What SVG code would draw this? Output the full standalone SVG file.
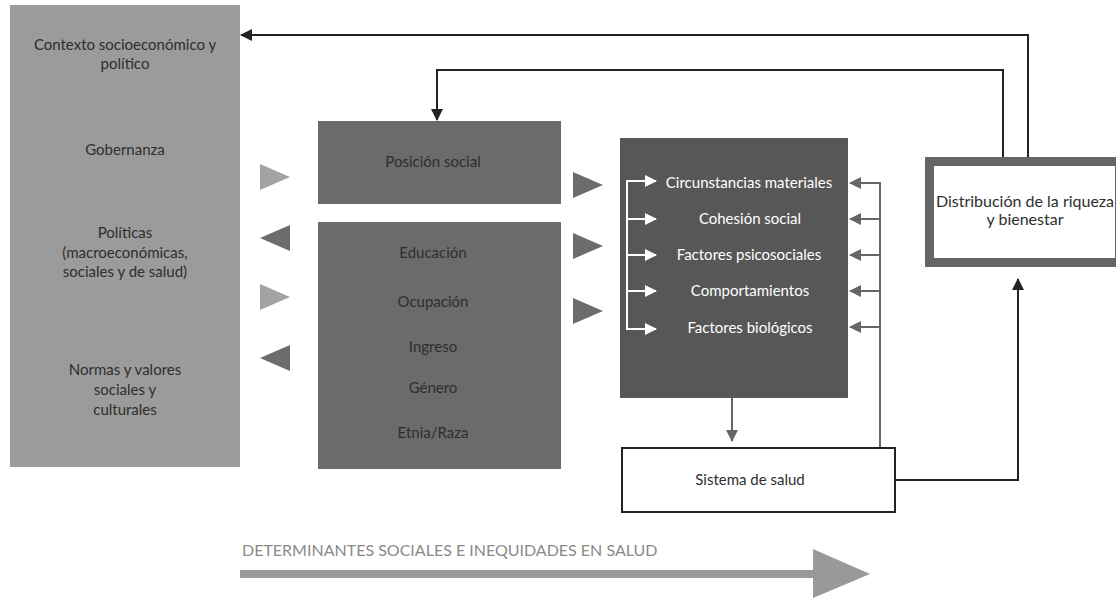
<svg xmlns="http://www.w3.org/2000/svg" width="1116" height="600" viewBox="0 0 1116 600">
<defs>
<style>
text{font-family:Lato,"Open Sans","Liberation Sans",sans-serif;font-size:15px;text-anchor:middle;}
.dk{fill:#2e2e2e;}
.wt{fill:#ffffff;}
.blk{stroke:#222;stroke-width:2;fill:none;}
.gry{stroke:#666;stroke-width:2;fill:none;}
.wln{stroke:#fff;stroke-width:2;fill:none;}
.tl{fill:#a3a3a3;}
.td{fill:#6c6c6c;}
</style>
<marker id="ab" markerWidth="12" markerHeight="12" refX="11" refY="6" orient="auto" markerUnits="userSpaceOnUse"><path d="M0,0 L12,6 L0,12 z" fill="#222"/></marker>
<marker id="ag" markerWidth="12" markerHeight="12" refX="11" refY="6" orient="auto" markerUnits="userSpaceOnUse"><path d="M0,0 L12,6 L0,12 z" fill="#666"/></marker>
<marker id="aw" markerWidth="12" markerHeight="12" refX="11" refY="6" orient="auto" markerUnits="userSpaceOnUse"><path d="M0,0 L12,6 L0,12 z" fill="#fff"/></marker>
</defs>
<rect width="1116" height="600" fill="#fff"/>

<g id="contexto">
<rect x="10" y="5" width="230" height="462" fill="#9b9b9b"/>
<text class="dk" x="125" y="50">Contexto socioeconómico y</text>
<text class="dk" x="125" y="69">político</text>
<text class="dk" x="125" y="155">Gobernanza</text>
<text class="dk" x="125" y="238">Políticas</text>
<text class="dk" x="125" y="258">(macroeconómicas,</text>
<text class="dk" x="125" y="277">sociales y de salud)</text>
<text class="dk" x="125" y="375">Normas y valores</text>
<text class="dk" x="125" y="395">sociales y</text>
<text class="dk" x="125" y="415">culturales</text>
</g>

<g id="posicion-social">
<rect x="318" y="121" width="243" height="83" fill="#6b6b6b"/>
<text class="dk" x="433" y="167">Posición social</text>
</g>

<g id="estratificadores">
<rect x="318" y="222" width="243" height="247" fill="#6b6b6b"/>
<text class="dk" x="433" y="258">Educación</text>
<text class="dk" x="433" y="307">Ocupación</text>
<text class="dk" x="433" y="352">Ingreso</text>
<text class="dk" x="433" y="393">Género</text>
<text class="dk" x="433" y="438">Etnia/Raza</text>
</g>

<g id="intermedios">
<rect x="620" y="138" width="228" height="260" fill="#575757"/>
<text class="wt" x="749" y="188">Circunstancias materiales</text>
<text class="wt" x="750" y="224">Cohesión social</text>
<text class="wt" x="749" y="260">Factores psicosociales</text>
<text class="wt" x="750" y="296">Comportamientos</text>
<text class="wt" x="750" y="333">Factores biológicos</text>
</g>

<g id="sistema-salud">
<rect x="622" y="448" width="273" height="64" fill="#fff" stroke="#222" stroke-width="2"/>
<text class="dk" x="750" y="485">Sistema de salud</text>
</g>

<g id="distribucion">
<rect x="929.5" y="161.5" width="190" height="101" fill="#fff" stroke="#666" stroke-width="9"/>
<text class="dk" x="1025" y="207" style="font-size:16px">Distribución de la riqueza</text>
<text class="dk" x="1025" y="225" style="font-size:16px">y bienestar</text>
</g>

<g id="triangulos">
<polygon class="tl" points="260,164 290,177 260,190"/>
<polygon class="td" points="290,225 260,238 290,251"/>
<polygon class="tl" points="260,284 290,297 260,310"/>
<polygon class="td" points="290,345 260,358 290,371"/>
<polygon class="td" points="573,172 603,185 573,198"/>
<polygon class="td" points="573,233 603,246 573,259"/>
<polygon class="td" points="573,298 603,311 573,324"/>
</g>

<g id="connectors">
<polyline class="blk" points="1028,157 1028,35 241,35" marker-end="url(#ab)"/>
<polyline class="blk" points="1003,157 1003,70 437,70 437,120" marker-end="url(#ab)"/>
<polyline class="wln" points="627,181 627,329"/>
<line class="wln" x1="626" y1="181" x2="656" y2="181" marker-end="url(#aw)"/>
<line class="wln" x1="626" y1="219" x2="656" y2="219" marker-end="url(#aw)"/>
<line class="wln" x1="626" y1="255" x2="656" y2="255" marker-end="url(#aw)"/>
<line class="wln" x1="626" y1="291" x2="656" y2="291" marker-end="url(#aw)"/>
<line class="wln" x1="626" y1="329" x2="656" y2="329" marker-end="url(#aw)"/>
<polyline class="gry" points="880,447 880,183"/>
<line class="gry" x1="881" y1="183" x2="850" y2="183" marker-end="url(#ag)"/>
<line class="gry" x1="881" y1="219" x2="850" y2="219" marker-end="url(#ag)"/>
<line class="gry" x1="881" y1="255" x2="850" y2="255" marker-end="url(#ag)"/>
<line class="gry" x1="881" y1="291" x2="850" y2="291" marker-end="url(#ag)"/>
<line class="gry" x1="881" y1="327" x2="850" y2="327" marker-end="url(#ag)"/>
<line class="gry" x1="732" y1="398" x2="732" y2="441" marker-end="url(#ag)"/>
<polyline class="blk" points="896,480 1018,480 1018,279" marker-end="url(#ab)"/>
</g>

<g id="eje">
<text x="242" y="556" style="text-anchor:start;fill:#8a8a8a;font-size:16px">DETERMINANTES SOCIALES E INEQUIDADES EN SALUD</text>
<rect x="240" y="570" width="575" height="8" fill="#999"/>
<polygon points="813,549 870,574 813,598" fill="#999"/>
</g>
</svg>
